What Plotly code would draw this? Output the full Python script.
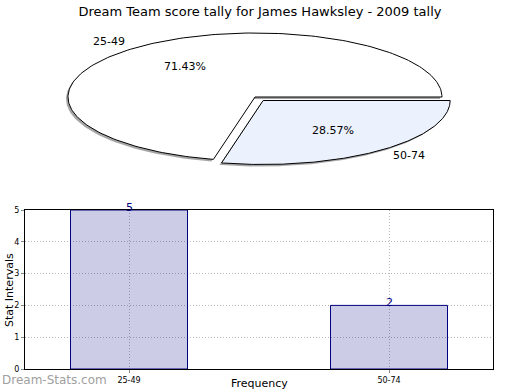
import numpy as np
import plotly.graph_objects as go

# ---- data ----
title = "Dream Team score tally for James Hawksley - 2009 tally"
categories = ["25-49", "50-74"]
counts = [5, 2]
pie_colors = ["#FFFFFF", "#EBF1FD"]
explode = [0.0, 0.07]
y_ticks = [0, 1, 2, 3, 4, 5]

W, H = 520, 390
fig = go.Figure()

# ---- pie (elliptical, drawn in unit-circle coords scaled by axes) ----
total = sum(counts)
fracs = [c / total for c in counts]
shx, shy = -2 / 187, -2 / 64  # shadow offset in axis units
start = 0.0
slices = []
for i, f in enumerate(fracs):
    a0, a1 = start, start + f * 360
    mid = np.radians((a0 + a1) / 2)
    ox, oy = explode[i] * np.cos(mid), explode[i] * np.sin(mid)
    th = np.radians(np.linspace(a0, a1, 200))
    xs = np.concatenate([[ox], ox + np.cos(th), [ox]])
    ys = np.concatenate([[oy], oy + np.sin(th), [oy]])
    slices.append((xs, ys, mid, ox, oy))
    start = a1

for xs, ys, mid, ox, oy in slices:
    fig.add_trace(go.Scatter(x=xs + shx, y=ys + shy, mode="lines", fill="toself",
                             fillcolor="rgba(0,0,0,0.35)", line=dict(width=0),
                             xaxis="x2", yaxis="y2", hoverinfo="skip", showlegend=False))
for i, (xs, ys, mid, ox, oy) in enumerate(slices):
    fig.add_trace(go.Scatter(x=xs, y=ys, mode="lines", fill="toself",
                             fillcolor=pie_colors[i], line=dict(color="black", width=1),
                             xaxis="x2", yaxis="y2", hoverinfo="skip", showlegend=False))

for i, (xs, ys, mid, ox, oy) in enumerate(slices):
    c, s = np.cos(mid), np.sin(mid)
    fig.add_annotation(x=ox + 1.1 * c, y=oy + 1.1 * s, xref="x2", yref="y2",
                       text=categories[i], showarrow=False,
                       xanchor="left" if c > 0 else "right", yanchor="middle",
                       font=dict(family="DejaVu Sans", size=11, color="black"))
    fig.add_annotation(x=ox + 0.6 * c, y=oy + 0.6 * s, xref="x2", yref="y2",
                       text="%.2f%%" % (fracs[i] * 100), showarrow=False,
                       xanchor="center", yanchor="middle",
                       font=dict(family="DejaVu Sans", size=11, color="black"))

# ---- bar chart ----
fig.add_trace(go.Bar(x=list(range(len(categories))), y=counts, width=0.45,
                     marker=dict(color="rgba(0,0,128,0.2)", line=dict(color="#000080", width=1)),
                     xaxis="x", yaxis="y", hoverinfo="skip", showlegend=False))
for i, v in enumerate(counts):
    fig.add_annotation(x=i, y=v, xref="x", yref="y", text=str(v), showarrow=False,
                       yanchor="bottom", yshift=-6,
                       font=dict(family="DejaVu Sans", size=11, color="#000080"))

grid = dict(showgrid=True, gridcolor="#b8b8b8", griddash="1px,2px", gridwidth=1)
fig.update_layout(
    width=W, height=H, margin=dict(l=0, r=0, t=0, b=0, autoexpand=False),
    paper_bgcolor="white", plot_bgcolor="white",
    showlegend=False,
    title=dict(text=title, x=0.5, xanchor="center", y=1 - 11 / H, yanchor="middle",
               font=dict(family="DejaVu Sans", size=13, color="black")),
    xaxis2=dict(domain=[0, 1], range=[-255 / 187, (W - 255) / 187], visible=False,
                fixedrange=True),
    yaxis2=dict(domain=[1 - 180 / H, 1 - 20 / H], range=[-(180 - 97) / 64, (97 - 20) / 64],
                visible=False, fixedrange=True),
    xaxis=dict(domain=[25 / W, 493 / W], range=[-0.4, 1.4], automargin=False,
               tickvals=list(range(len(categories))), ticktext=categories,
               showline=True, linecolor="black", linewidth=1, mirror=True,
               ticks="outside", ticklen=3, tickcolor="#888",
               tickfont=dict(family="DejaVu Sans", size=8, color="black"),
               zeroline=False, fixedrange=True, **grid),
    yaxis=dict(domain=[1 - 369 / H, 1 - 210 / H], range=[0, 5], automargin=False,
               tickvals=y_ticks,
               showline=True, linecolor="black", linewidth=1, mirror=True,
               ticks="outside", ticklen=3, tickcolor="#888",
               tickfont=dict(family="DejaVu Sans", size=8, color="black"),
               zeroline=False, fixedrange=True, **grid),
)

# axis titles
fig.add_annotation(x=259 / W, y=0, xref="paper", yref="paper", text="Frequency",
                   showarrow=False, xanchor="center", yanchor="bottom", yshift=-2,
                   font=dict(family="DejaVu Sans", size=11, color="black"))
fig.add_annotation(x=9 / W, y=1 - 290 / H, xref="paper", yref="paper", text="Stat Intervals",
                   showarrow=False, xanchor="center", yanchor="middle", textangle=-90,
                   font=dict(family="DejaVu Sans", size=11, color="black"))

fig.add_annotation(x=0, y=1 - 380 / H, xref="paper", yref="paper", text="Dream-Stats.com",
                   showarrow=False, xanchor="left", yanchor="middle",
                   font=dict(family="DejaVu Sans", size=12, color="#a0a0a0"))

fig.write_html("out.html")
